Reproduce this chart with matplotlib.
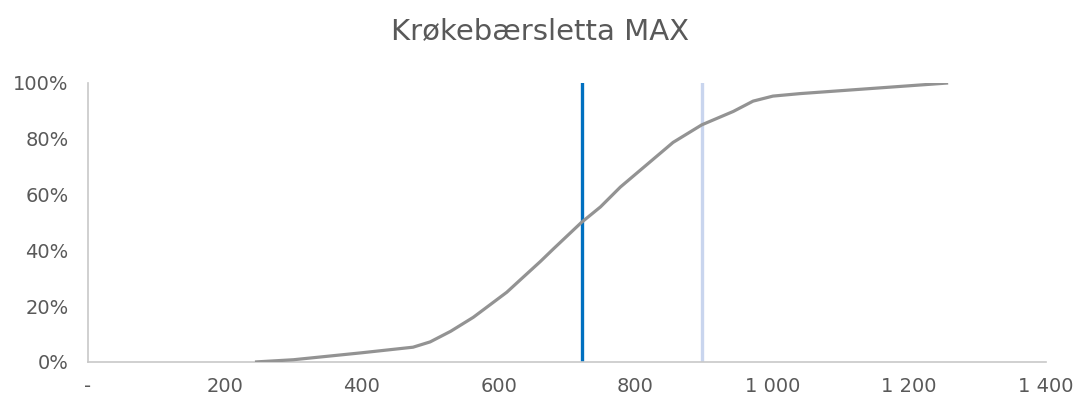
import matplotlib
matplotlib.use("Agg")
import matplotlib.pyplot as plt
from matplotlib.ticker import FixedLocator, FuncFormatter

# Cumulative share of values vs. level
levels = [244, 300, 400, 475, 500, 530, 563, 612, 632, 661, 680, 721, 749,
          778, 817, 855, 897, 943, 972, 1001, 1041, 1257]
share = [0.0, 0.008, 0.033, 0.053, 0.072, 0.11, 0.16, 0.25, 0.295, 0.36,
         0.405, 0.50, 0.556, 0.627, 0.708, 0.787, 0.85, 0.898, 0.935,
         0.953, 0.962, 1.0]

median_level = 722
p85_level = 897

x_ticks = [0, 200, 400, 600, 800, 1000, 1200, 1400]
y_ticks = [0, 0.2, 0.4, 0.6, 0.8, 1.0]
title = "Krøkebærsletta MAX"

text_color = "#595959"
plt.rcParams["font.family"] = ["DejaVu Sans"]

fig = plt.figure(figsize=(10.8, 3.98), dpi=100)
ax = fig.add_axes([0.0815, 0.0905, 0.887, 0.701])

ax.plot(levels, share, color="#939393", lw=2.3, solid_capstyle="butt",
        solid_joinstyle="round", zorder=3)
ax.plot([median_level, median_level], [0, 1], color="#0070C0", lw=2.4, zorder=2)
ax.plot([p85_level, p85_level], [0, 1], color="#C9D5EE", lw=2.4, zorder=2)

ax.set_xlim(0, 1400)
ax.set_ylim(0, 1.0)
ax.xaxis.set_major_locator(FixedLocator(x_ticks))
ax.yaxis.set_major_locator(FixedLocator(y_ticks))


def fmt_x(v, _):
    if v == 0:
        return "-"
    return f"{int(v):,}".replace(",", " ")


ax.xaxis.set_major_formatter(FuncFormatter(fmt_x))
ax.yaxis.set_major_formatter(FuncFormatter(lambda v, _: f"{round(v * 100)}%"))

for side in ("top", "right"):
    ax.spines[side].set_visible(False)
for side in ("left", "bottom"):
    ax.spines[side].set_color("#C8C8C8")
    ax.spines[side].set_linewidth(1.2)

ax.tick_params(length=0, labelsize=14, colors=text_color)
ax.tick_params(axis="x", pad=11)
ax.tick_params(axis="y", pad=14)

fig.text(0.5, 0.922, title, ha="center", va="center", fontsize=21,
         color=text_color)

fig.savefig("out.png", dpi=100, facecolor="white")
